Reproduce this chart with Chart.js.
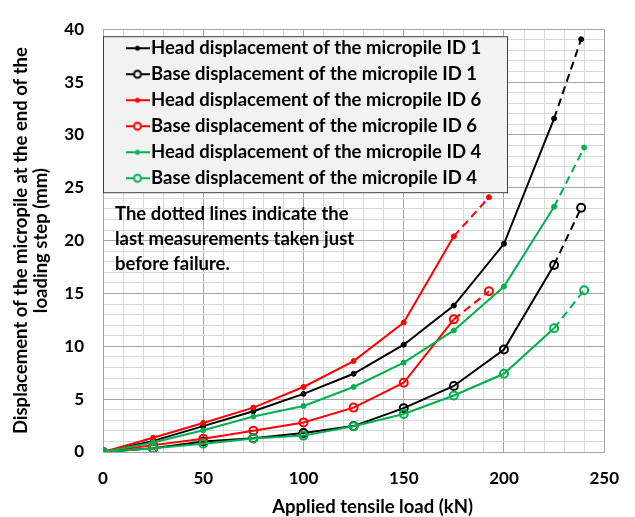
<!DOCTYPE html>
<html lang="en">
<head>
<meta charset="UTF-8">
<title>Micropile displacement</title>
<script src="https://cdn.jsdelivr.net/npm/chart.js@4.4.0/dist/chart.umd.min.js"></script>
<style>
  body { margin: 0; background: #fff; }
  #wrap { width: 635px; height: 517px; }
</style>
</head>
<body>
<div id="wrap"><canvas id="mychart" width="635" height="517"></canvas></div>
<script>
// applied load (kN) per loading step, last value = step just before failure
const loadsId1 = [0, 25, 50, 75, 100, 125, 150, 175, 200, 225, 238.5];
const headId1 = [0, 1.05, 2.45, 3.85, 5.5, 7.4, 10.15, 13.85, 19.7, 31.55, 39.05];
const baseId1 = [0, 0.35, 1.0, 1.3, 1.8, 2.45, 4.15, 6.25, 9.7, 17.7, 23.1];

const loadsId6 = [0, 25, 50, 75, 100, 125, 150, 175, 192.5];
const headId6 = [0, 1.35, 2.75, 4.2, 6.15, 8.6, 12.25, 20.4, 24.1];
const baseId6 = [0, 0.65, 1.25, 2.0, 2.8, 4.2, 6.55, 12.55, 15.2];

const loadsId4 = [0, 25, 50, 75, 100, 125, 150, 175, 200, 225, 240];
const headId4 = [0, 0.9, 2.05, 3.35, 4.35, 6.15, 8.45, 11.5, 15.65, 23.2, 28.8];
const baseId4 = [0, 0.35, 0.78, 1.28, 1.55, 2.43, 3.6, 5.35, 7.4, 11.7, 15.3];

const names = [
    'Head displacement of the micropile ID 1',
    'Base displacement of the micropile ID 1',
    'Head displacement of the micropile ID 6',
    'Base displacement of the micropile ID 6',
    'Head displacement of the micropile ID 4',
    'Base displacement of the micropile ID 4'
];
const xLabels = [0, 50, 100, 150, 200, 250];
const yLabels = [0, 5, 10, 15, 20, 25, 30, 35, 40];
const xTitle = 'Applied tensile load (kN)';
const yTitle = ['Displacement of the micropile at the end of the', 'loading step (mm)'];
const note = ['The dotted lines indicate the', 'last measurements taken just', 'before failure.'];

const BLACK = '#000000', RED = '#ff0000', GREEN = '#00b050';
const FONT = 'Lato';
const TXT = 18.5;   // size of legend, titles and note

function series(i, loads, vals, color, hollow) {
    const last = vals.length - 1;
    return {
        label: names[i],
        data: loads.map((x, k) => ({ x: x, y: vals[k] })),
        borderColor: color,
        backgroundColor: color,
        borderWidth: 2,
        pointRadius: hollow ? 4 : 2.5,
        pointBorderWidth: hollow ? 2 : 1,
        pointBorderColor: color,
        pointBackgroundColor: hollow ? 'rgba(0,0,0,0)' : color,
        order: 5 - i,
        segment: {
            borderDash: c => c.p1DataIndex === last ? [8, 5] : undefined
        }
    };
}

// little line+marker picture for the legend
function swatch(color, hollow) {
    const c = document.createElement('canvas');
    c.width = 24; c.height = 12;
    const g = c.getContext('2d');
    g.strokeStyle = color; g.lineWidth = 2;
    g.beginPath(); g.moveTo(0, 6); g.lineTo(24, 6); g.stroke();
    g.beginPath(); g.arc(12, 6, hollow ? 3.5 : 2.5, 0, 2 * Math.PI);
    if (hollow) { g.fillStyle = '#f2f2f2'; g.fill(); g.stroke(); }
    else { g.fillStyle = color; g.fill(); }
    return c;
}
const swatches = [swatch(BLACK, false), swatch(BLACK, true), swatch(RED, false),
                  swatch(RED, true), swatch(GREEN, false), swatch(GREEN, true)];

const boxPlugin = {
    id: 'legendBox',
    afterLayout(chart) {
        const lg = chart.legend, a = chart.chartArea;
        lg.left = a.left + 22.75;
        lg.top = a.top + 2.25;
        lg.right = a.left + 404;
        lg.bottom = a.top + 200;
        lg.width = lg.right - lg.left;
        lg.height = lg.bottom - lg.top;
    },
    beforeDatasetsDraw(chart) {
        const ctx = chart.ctx, a = chart.chartArea;
        ctx.save();
        ctx.fillStyle = '#f2f2f2';
        ctx.strokeStyle = '#404040';
        ctx.lineWidth = 1;
        ctx.fillRect(a.left + 0.5, a.top + 7.5, 404, 156);
        ctx.strokeRect(a.left + 0.5, a.top + 7.5, 404, 156);
        ctx.restore();
        chart.legend.draw(a);

        ctx.save();
        ctx.font = 'bold ' + TXT + 'px ' + FONT;
        ctx.fillStyle = '#000';
        ctx.textBaseline = 'middle';
        ctx.textAlign = 'left';
        note.forEach((t, k) => ctx.fillText(t, a.left + 12, a.top + 184.5 + 25 * k));
        ctx.textAlign = 'center';
        ctx.fillText(xTitle, a.left + a.width / 2 + 19, chart.scales.x.bottom - 10);
        ctx.restore();
    }
};

const gridColor = c => (c.tick && c.tick.value % 50 === 0) ? '#a6a6a6' : '#d9d9d9';
const gridColorY = c => (c.tick && c.tick.value % 5 === 0) ? '#a6a6a6' : '#d9d9d9';

new Chart(document.getElementById('mychart'), {
    type: 'line',
    data: {
        datasets: [
            series(0, loadsId1, headId1, BLACK, false),
            series(1, loadsId1, baseId1, BLACK, true),
            series(2, loadsId6, headId6, RED, false),
            series(3, loadsId6, baseId6, RED, true),
            series(4, loadsId4, headId4, GREEN, false),
            series(5, loadsId4, baseId4, GREEN, true)
        ]
    },
    plugins: [boxPlugin],
    options: {
        responsive: false,
        animation: false,
        layout: { padding: { top: 16, right: 26, bottom: 0, left: 0 } },
        plugins: {
            tooltip: { enabled: false },
            legend: {
                position: 'chartArea',
                align: 'start',
                labels: {
                    usePointStyle: true,
                    pointStyleWidth: 8.5,
                    padding: 7.5,
                    color: '#000',
                    font: { family: FONT, size: TXT, weight: 'bold' },
                    generateLabels: chart => Chart.defaults.plugins.legend.labels.generateLabels(chart)
                        .map(it => Object.assign(it, { pointStyle: swatches[it.datasetIndex] })),
                    sort: (a, b) => a.datasetIndex - b.datasetIndex
                }
            }
        },
        scales: {
            x: {
                type: 'linear',
                min: 0,
                max: 250,
                afterFit: s => { s.height = 65; },
                ticks: {
                    stepSize: 10,
                    autoSkip: false,
                    maxRotation: 0,
                    padding: 16,
                    color: '#000',
                    font: { family: FONT, size: 17, weight: 'bold' },
                    callback: v => xLabels.includes(v) ? v : ''
                },
                grid: { color: gridColor, drawTicks: false },
                border: { color: '#a6a6a6' }
            },
            y: {
                min: 0,
                max: 40,
                afterFit: s => { s.width = 103; },
                ticks: {
                    stepSize: 1,
                    autoSkip: false,
                    padding: 19,
                    color: '#000',
                    font: { family: FONT, size: 17, weight: 'bold' },
                    callback: v => yLabels.includes(v) ? v : ''
                },
                grid: { color: gridColorY, drawTicks: false },
                border: { color: '#a6a6a6' },
                title: {
                    display: true,
                    text: yTitle,
                    color: '#000',
                    padding: { top: 10.8, bottom: 0 },
                    font: { family: FONT, size: TXT, weight: 'bold', lineHeight: 1.1 }
                }
            }
        }
    }
});
</script>
</body>
</html>
